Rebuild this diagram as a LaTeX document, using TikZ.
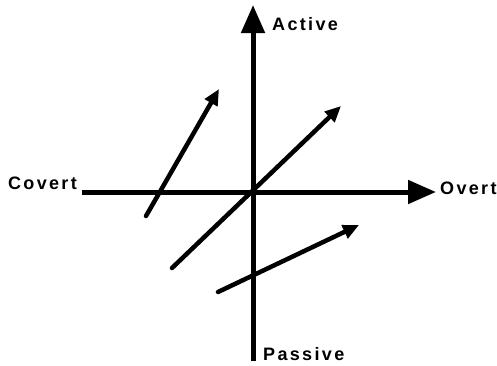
\documentclass[tikz,border=0pt]{standalone}
\usepackage{fontspec}
\setmainfont{Liberation Sans}[LetterSpace=13]
\usetikzlibrary{arrows.meta}
\begin{document}
\begin{tikzpicture}[x=1pt,y=-1pt,
  axis/.style={line width=5pt,-{Triangle[length=28pt,width=23pt]}},
  vec/.style={line width=4.5pt,line cap=round,-{Triangle[length=16pt,width=14pt]}},
  lbl/.style={font=\bfseries\fontsize{18}{20}\selectfont,inner sep=0pt}]
\useasboundingbox (0,0) rectangle (497,365);
% axes
\coordinate (vb) at (253,361);
\coordinate (vt) at (253,5);
\coordinate (hl) at (82,192);
\coordinate (hr) at (436,192);
\draw[axis] (vb) -- (vt);
\draw[axis] (hl) -- (hr);
% labels
\node[lbl,anchor=west] (active) at (272,24.5) {Active};
\node[lbl,anchor=west] (passive) at (263,354.5) {Passive};
\node[lbl,anchor=east] (covert) at (77,183) {Covert};
\node[lbl,anchor=west] (overt) at (440,188) {Overt};
% vectors
\coordinate (a1) at (146,216);
\coordinate (b1) at (219,89);
\coordinate (a2) at (172,268);
\coordinate (b2) at (341,106);
\coordinate (a3) at (218,292);
\coordinate (b3) at (359,225);
\draw[vec] (a1) -- (b1);
\draw[vec] (a2) -- (b2);
\draw[vec] (a3) -- (b3);
\end{tikzpicture}
\end{document}
